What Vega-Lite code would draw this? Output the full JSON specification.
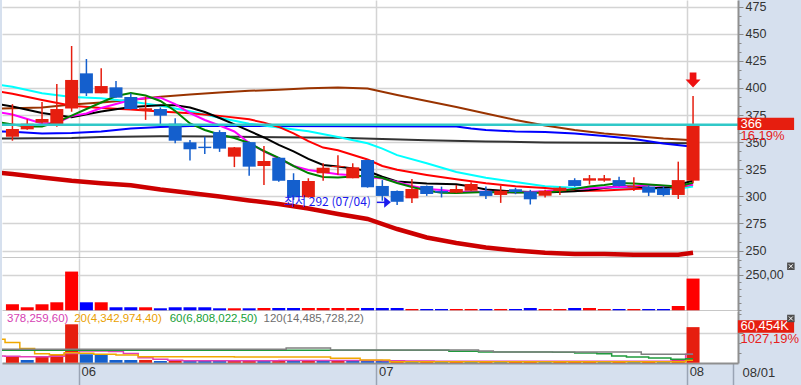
{
  "$schema": "https://vega.github.io/schema/vega-lite/v6.json",
  "background": "#d6e0ee",
  "padding": 0,
  "spacing": 0,
  "bounds": "flush",
  "resolve": {"scale": {"x": "independent", "y": "independent", "color": "independent"}},
  "config": {
    "view": {"fill": "#ffffff", "stroke": null},
    "axis": {"labelFont": "Liberation Sans", "labelColor": "#333333", "labelFontSize": 12, "tickColor": "#8a8a8a", "domainColor": "#8f8f8f", "domainWidth": 2, "gridWidth": 1.5, "labelOverlap": false, "labelBound": false, "labelFlush": false},
    "text": {"font": "Liberation Sans"}
  },
  "datasets": {
    "candles": [
      {"i":0,"o":355,"h":385,"l":351.3,"c":362,"dir":"up","v2":42,"vol":9700,"vdir":"up"},
      {"i":1,"o":361.8,"h":371,"l":361.5,"c":367,"dir":"up","v2":21,"vol":4600,"vdir":"down"},
      {"i":2,"o":368,"h":387,"l":367,"c":371.3,"dir":"up","v2":42,"vol":11400,"vdir":"up"},
      {"i":3,"o":366.7,"h":403.6,"l":364.2,"c":380.5,"dir":"up","v2":56,"vol":14300,"vdir":"up"},
      {"i":4,"o":381,"h":438.6,"l":378,"c":407.3,"dir":"up","v2":271,"vol":65300,"vdir":"up"},
      {"i":5,"o":413.4,"h":426.6,"l":392.5,"c":395,"dir":"down","v2":56,"vol":14300,"vdir":"down"},
      {"i":6,"o":395,"h":418,"l":395,"c":401.7,"dir":"up","v2":56,"vol":13600,"vdir":"down"},
      {"i":7,"o":400.5,"h":406.3,"l":391,"c":391,"dir":"down","v2":21,"vol":4600,"vdir":"down"},
      {"i":8,"o":391.6,"h":395,"l":380,"c":380.5,"dir":"down","v2":21,"vol":4500,"vdir":"down"},
      {"i":9,"o":378.7,"h":392,"l":370.5,"c":381.2,"dir":"up","v2":21,"vol":4700,"vdir":"up"},
      {"i":10,"o":380.5,"h":382,"l":366.7,"c":374.4,"dir":"down","v2":14,"vol":2900,"vdir":"down"},
      {"i":11,"o":367,"h":372,"l":349,"c":351.3,"dir":"down","v2":21,"vol":3900,"vdir":"up"},
      {"i":12,"o":349.8,"h":352,"l":333,"c":343.4,"dir":"down","v2":21,"vol":3600,"vdir":"down"},
      {"i":13,"o":345.8,"h":355,"l":339,"c":344.5,"dir":"down","v2":21,"vol":3500,"vdir":"down"},
      {"i":14,"o":359.3,"h":361,"l":341,"c":344,"dir":"down","v2":14,"vol":3300,"vdir":"down"},
      {"i":15,"o":336.6,"h":345.5,"l":327,"c":345.2,"dir":"up","v2":14,"vol":3500,"vdir":"up"},
      {"i":16,"o":350,"h":350.5,"l":319,"c":327.4,"dir":"down","v2":14,"vol":3700,"vdir":"up"},
      {"i":17,"o":328,"h":346.4,"l":310.5,"c":332.6,"dir":"up","v2":16,"vol":3600,"vdir":"down"},
      {"i":18,"o":335.6,"h":336,"l":313.5,"c":314.4,"dir":"down","v2":16,"vol":3900,"vdir":"up"},
      {"i":19,"o":315.1,"h":321.3,"l":296.7,"c":299.2,"dir":"down","v2":16,"vol":3700,"vdir":"down"},
      {"i":20,"o":299.2,"h":316.7,"l":299,"c":314.2,"dir":"up","v2":16,"vol":4200,"vdir":"up"},
      {"i":21,"o":321.3,"h":330.5,"l":314.5,"c":326.4,"dir":"up","v2":16,"vol":3800,"vdir":"down"},
      {"i":22,"o":327,"h":338,"l":320,"c":328,"dir":"up","v2":16,"vol":3900,"vdir":"up"},
      {"i":23,"o":316.7,"h":330.5,"l":316.7,"c":326.8,"dir":"up","v2":16,"vol":3800,"vdir":"down"},
      {"i":24,"o":333.5,"h":334,"l":308,"c":308.4,"dir":"down","v2":16,"vol":3600,"vdir":"down"},
      {"i":25,"o":309.6,"h":315,"l":296,"c":300.4,"dir":"down","v2":16,"vol":3300,"vdir":"down"},
      {"i":26,"o":305,"h":305.5,"l":292,"c":295,"dir":"down","v2":16,"vol":3500,"vdir":"up"},
      {"i":27,"o":298.2,"h":316,"l":294,"c":306.8,"dir":"up","v2":9,"vol":2200,"vdir":"down"},
      {"i":28,"o":309.6,"h":310,"l":300.5,"c":302.2,"dir":"down","v2":9,"vol":2300,"vdir":"up"},
      {"i":29,"o":305,"h":309,"l":299,"c":303.5,"dir":"down","v2":9,"vol":2200,"vdir":"down"},
      {"i":30,"o":303.4,"h":310.5,"l":303,"c":306.8,"dir":"up","v2":9,"vol":2300,"vdir":"up"},
      {"i":31,"o":305.2,"h":313,"l":305,"c":311.4,"dir":"up","v2":9,"vol":2200,"vdir":"down"},
      {"i":32,"o":305,"h":309,"l":297.6,"c":300.4,"dir":"down","v2":9,"vol":2400,"vdir":"up"},
      {"i":33,"o":301.3,"h":310,"l":294,"c":305.2,"dir":"up","v2":9,"vol":2300,"vdir":"down"},
      {"i":34,"o":306.5,"h":308,"l":302,"c":304,"dir":"down","v2":9,"vol":2400,"vdir":"up"},
      {"i":35,"o":304.3,"h":306,"l":292.5,"c":297.3,"dir":"down","v2":16,"vol":2600,"vdir":"up"},
      {"i":36,"o":300.6,"h":306,"l":299,"c":305.2,"dir":"up","v2":9,"vol":2200,"vdir":"down"},
      {"i":37,"o":305,"h":309,"l":301.3,"c":308,"dir":"up","v2":9,"vol":2300,"vdir":"up"},
      {"i":38,"o":315,"h":316.7,"l":309,"c":309.6,"dir":"down","v2":16,"vol":2500,"vdir":"up"},
      {"i":39,"o":314.5,"h":319.7,"l":311,"c":316.7,"dir":"up","v2":16,"vol":2600,"vdir":"up"},
      {"i":40,"o":314.5,"h":319.7,"l":313.5,"c":316.7,"dir":"up","v2":9,"vol":2200,"vdir":"down"},
      {"i":41,"o":315,"h":318,"l":309,"c":309.6,"dir":"down","v2":9,"vol":2300,"vdir":"up"},
      {"i":42,"o":308.5,"h":317.6,"l":305,"c":309.5,"dir":"up","v2":9,"vol":2200,"vdir":"down"},
      {"i":43,"o":309,"h":310,"l":300.3,"c":303.4,"dir":"down","v2":9,"vol":2300,"vdir":"up"},
      {"i":44,"o":307.5,"h":309,"l":300,"c":301.3,"dir":"down","v2":9,"vol":2200,"vdir":"down"},
      {"i":45,"o":301.3,"h":332,"l":297.6,"c":315,"dir":"up","v2":30,"vol":4600,"vdir":"up"},
      {"i":46,"o":314.5,"h":392.5,"l":312,"c":366,"dir":"up","v2":222,"vol":60454,"vdir":"up"}
    ],
    "ma": [
      {"i":-1,"cyan":403,"red":397,"black":385.2,"green":368.6,"magenta":377.8,"brown":381,"blue":359.8,"gray":353.3,"dred":322},
      {"i":0,"cyan":401,"red":394.5,"black":382.8,"green":366.3,"magenta":375.5,"brown":381.2,"blue":359.5,"dred":320.6},
      {"i":1,"green":364.4,"magenta":371.3},
      {"i":2,"cyan":395,"red":388.8,"black":376.8,"green":364.4,"magenta":367.2,"brown":381.9,"blue":357.9,"dred":317.4},
      {"i":3,"green":368.6,"magenta":367.6},
      {"i":4,"cyan":391.5,"red":383.5,"black":373,"green":374.5,"magenta":374,"brown":384.7,"blue":358.4,"gray":353.8,"dred":314.4},
      {"i":5,"green":380.5,"magenta":376.4},
      {"i":6,"cyan":390.5,"red":381.5,"black":378.2,"green":386.5,"magenta":381.5,"brown":386.5,"blue":359.8,"gray":354.7,"dred":312.1},
      {"i":7,"green":392.5,"magenta":385.1},
      {"i":8,"cyan":387.5,"red":380.1,"black":382.4,"green":395.3,"magenta":388.8,"brown":388.8,"blue":362.6,"dred":310.2},
      {"i":9,"green":393,"magenta":390.7},
      {"i":10,"cyan":383.5,"red":378.3,"black":383.9,"green":387.9,"magenta":391,"brown":391.9,"blue":363.9,"gray":355.4,"dred":306.3},
      {"i":11,"black":383.9,"green":378.7,"magenta":385.1},
      {"i":12,"cyan":378.5,"red":376.6,"black":381.9,"green":367.2,"magenta":376.8,"brown":393.9,"blue":364.9,"dred":303.1},
      {"i":13,"black":377.8,"green":361.2,"magenta":370.4},
      {"i":14,"cyan":372.5,"red":374.2,"black":372.2,"green":357,"magenta":365.3,"brown":395.7,"blue":364.9,"gray":355.2,"dred":299.9},
      {"i":15,"black":366.3,"green":353.8,"magenta":359.8},
      {"i":16,"cyan":367,"red":371,"black":360.3,"green":349.2,"magenta":349.2,"brown":397.3,"dred":296.2},
      {"i":17,"red":368,"black":354.3,"green":341.8,"magenta":341.4},
      {"i":18,"cyan":363.5,"red":364,"black":347.4,"green":335.4,"magenta":334.9,"brown":398.3,"gray":354.5,"dred":293},
      {"i":19,"red":358,"black":341.4,"green":328,"magenta":328},
      {"i":20,"cyan":360,"red":351,"black":334.5,"green":321.5,"magenta":324.3,"brown":399.6,"dred":288.8},
      {"i":21,"red":345,"black":328.9,"green":317.9,"magenta":322.5},
      {"i":22,"cyan":354.8,"red":342.5,"black":327.5,"green":317.4,"magenta":320.3,"brown":400.4,"gray":354,"dred":283.8},
      {"i":23,"black":325.7,"green":318.3,"magenta":319.5},
      {"i":24,"cyan":349,"red":334,"black":323.4,"green":319.2,"magenta":317.9,"brown":399.4,"dred":279.2},
      {"i":25,"cyan":344,"red":328,"black":318.1,"green":316.9,"magenta":316.5,"gray":352.9},
      {"i":26,"cyan":338,"red":324.5,"black":313.7,"green":312.3,"magenta":313.3,"brown":393.4,"dred":269.9},
      {"i":27,"green":308.6,"magenta":309.6},
      {"i":28,"cyan":330.5,"red":319.8,"black":311.9,"green":305.4,"magenta":306.8,"brown":387.9,"gray":351.7,"dred":262.1},
      {"i":29,"green":303.4,"magenta":305.9},
      {"i":30,"cyan":322.5,"red":315.7,"black":311.1,"green":303.1,"magenta":304.5,"brown":382.4,"blue":364.4,"dred":257},
      {"i":31,"black":309.1,"green":303.6,"blue":362.6},
      {"i":32,"cyan":317.2,"red":312,"black":306.3,"green":304,"magenta":304.3,"brown":376.4,"blue":361.2,"gray":350.6,"dred":252.9},
      {"i":34,"cyan":313.2,"red":309.3,"black":304.5,"green":303.6,"magenta":303.6,"brown":370.4,"blue":359.8,"dred":250.1},
      {"i":36,"cyan":309.3,"red":307.8,"black":303.6,"green":303.4,"magenta":304.7,"brown":365.3,"blue":359.3,"gray":349.7,"dred":248.1},
      {"i":37,"green":305},
      {"i":38,"cyan":308,"red":305,"black":304.8,"green":306.8,"magenta":306.8,"brown":361.2,"blue":357.9,"dred":246.9},
      {"i":39,"black":305.9,"green":309.1},
      {"i":40,"cyan":308,"red":305.5,"black":307.7,"green":310.5,"magenta":308.2,"brown":357.9,"blue":355.6,"gray":349.4,"dred":246.9},
      {"i":41,"black":309.3,"green":312.3},
      {"i":42,"cyan":308,"red":306.7,"black":309.1,"green":311.9,"magenta":309.1,"brown":355.6,"blue":352.9,"dred":246.3},
      {"i":43,"black":307.9,"green":310.9,"magenta":310.5},
      {"i":44,"cyan":306.8,"red":307.9,"black":307.7,"green":310,"magenta":309.6,"brown":353.3,"blue":348.7,"dred":246.3},
      {"i":45,"cyan":307,"red":308.5,"black":310.5,"green":309.1,"magenta":309.6,"dred":246.3},
      {"i":46,"cyan":309,"red":311,"black":314.6,"green":312.6,"magenta":311,"brown":351.7,"blue":345.8,"gray":348.9,"dred":248.1}
    ],
    "vma": [
      {"i":-1,"k":"m5","v":11400},{"i":0,"k":"m5","v":11000},{"i":1,"k":"m5","v":10200},{"i":2,"k":"m5","v":10200},{"i":3,"k":"m5","v":11000},{"i":4,"k":"m5","v":15600},{"i":5,"k":"m5","v":19900},{"i":6,"k":"m5","v":19900},{"i":7,"k":"m5","v":19000},{"i":8,"k":"m5","v":15600},{"i":9,"k":"m5","v":8500},{"i":10,"k":"m5","v":5800},{"i":11,"k":"m5","v":4100},{"i":12,"k":"m5","v":3400},{"i":16,"k":"m5","v":3300},{"i":20,"k":"m5","v":3700},{"i":24,"k":"m5","v":3600},{"i":26,"k":"m5","v":3300},{"i":27,"k":"m5","v":3000},{"i":30,"k":"m5","v":2500},{"i":35,"k":"m5","v":2400},{"i":40,"k":"m5","v":2400},{"i":44,"k":"m5","v":2300},{"i":45,"k":"m5","v":2700},{"i":46,"k":"m5","v":14378},
      {"i":-1,"k":"m20","v":40000},{"i":0,"k":"m20","v":34500},{"i":1,"k":"m20","v":24000},{"i":2,"k":"m20","v":15300},{"i":3,"k":"m20","v":13600},{"i":4,"k":"m20","v":17000},{"i":5,"k":"m20","v":16000},{"i":6,"k":"m20","v":14300},{"i":8,"k":"m20","v":13100},{"i":9,"k":"m20","v":10200},{"i":21,"k":"m20","v":9700},{"i":22,"k":"m20","v":7500},{"i":23,"k":"m20","v":7500},{"i":24,"k":"m20","v":4600},{"i":25,"k":"m20","v":4600},{"i":26,"k":"m20","v":1500},{"i":45,"k":"m20","v":1500},{"i":46,"k":"m20","v":4343},
      {"i":-1,"k":"m60","v":21000},{"i":29,"k":"m60","v":21000},{"i":30,"k":"m60","v":19500},{"i":31,"k":"m60","v":19500},{"i":32,"k":"m60","v":18200},{"i":36,"k":"m60","v":18200},{"i":37,"k":"m60","v":17700},{"i":39,"k":"m60","v":16500},{"i":40,"k":"m60","v":15300},{"i":41,"k":"m60","v":11400},{"i":42,"k":"m60","v":9700},{"i":44,"k":"m60","v":8000},{"i":45,"k":"m60","v":5800},{"i":46,"k":"m60","v":6808},
      {"i":-1,"k":"m120","v":22800},{"i":18,"k":"m120","v":22800},{"i":19,"k":"m120","v":25000},{"i":21,"k":"m120","v":25000},{"i":22,"k":"m120","v":21600},{"i":31,"k":"m120","v":21600},{"i":32,"k":"m120","v":19900},{"i":33,"k":"m120","v":18200},{"i":42,"k":"m120","v":18200},{"i":43,"k":"m120","v":14486},{"i":46,"k":"m120","v":14486}
    ]
  },
  "vconcat": [
    {
      "width": 736,
      "height": 258,
      "layer": [
        {
          "data": {"name": "ma"},
          "transform": [{"filter": "isValid(datum.dred)"}],
          "mark": {"type": "line", "color": "#cc0000", "strokeWidth": 4.5, "clip": true},
          "encoding": {
            "x": {"field": "i", "type": "quantitative", "title": null, "scale": {"type": "linear", "domain": [-0.367, 48.7], "nice": false, "zero": false},
                  "axis": {"values": [4.5, 24.6, 45.6], "tickCount": 100, "labels": false, "ticks": false, "domain": true, "grid": true, "gridColor": "#d4d4d4", "title": null, "minExtent": 0, "maxExtent": 0}},
            "y": {"field": "dred", "type": "quantitative", "title": null, "scale": {"domain": [243.2, 481], "nice": false, "zero": false},
                  "axis": {"orient": "right", "title": null, "labelOverlap": false, "tickCount": 100,
                           "values": [250,258.333,266.667,275,283.333,291.667,300,308.333,316.667,325,333.333,341.667,350,358.333,366.667,375,383.333,391.667,400,408.333,416.667,425,433.333,441.667,450,458.333,466.667,475],
                           "labelExpr": "datum.value % 25 == 0 ? datum.label : ''",
                           "tickSize": {"condition": {"test": "datum.value % 25 == 0", "value": 5}, "value": 3},
                           "grid": true,
                           "gridColor": {"condition": {"test": "datum.value % 25 == 0", "value": "#d4d4d4"}, "value": "transparent"},
                           "labelPadding": 2, "labelFontSize": 12.5, "minExtent": 65, "maxExtent": 65}}
          }
        },
        {
          "data": {"name": "ma"},
          "transform": [
            {"fold": ["gray", "blue", "brown", "cyan", "red", "black", "magenta", "green"], "as": ["k", "v"]},
            {"filter": "isValid(datum.v)"}
          ],
          "mark": {"type": "line", "strokeWidth": 2, "clip": true},
          "encoding": {
            "x": {"field": "i", "type": "quantitative", "title": null, "scale": {"type": "linear", "domain": [-0.367, 48.7], "nice": false, "zero": false}},
            "y": {"field": "v", "type": "quantitative", "title": null, "scale": {"domain": [243.2, 481], "nice": false, "zero": false}},
            "color": {"field": "k", "type": "nominal", "legend": null,
                      "scale": {"domain": ["gray", "blue", "brown", "cyan", "red", "black", "magenta", "green"],
                                "range": ["#333333", "#0000ff", "#993300", "#00ffff", "#ff0000", "#000000", "#ff00ff", "#008000"]}}
          }
        },
        {
          "data": {"name": "candles"},
          "mark": {"type": "rule", "strokeWidth": 1.5},
          "encoding": {
            "x": {"field": "i", "type": "quantitative", "title": null, "scale": {"type": "linear", "domain": [-0.367, 48.7], "nice": false, "zero": false}},
            "y": {"field": "l", "type": "quantitative", "title": null, "scale": {"domain": [243.2, 481], "nice": false, "zero": false}},
            "y2": {"field": "h"},
            "color": {"condition": {"test": "datum.dir === 'up'", "value": "#e61e0f"}, "value": "#145fcd"}
          }
        },
        {
          "data": {"name": "candles"},
          "mark": {"type": "bar", "width": 13, "minBandSize": 1.5},
          "encoding": {
            "x": {"field": "i", "type": "quantitative", "title": null, "scale": {"type": "linear", "domain": [-0.367, 48.7], "nice": false, "zero": false}},
            "y": {"field": "o", "type": "quantitative", "title": null, "scale": {"domain": [243.2, 481], "nice": false, "zero": false}},
            "y2": {"field": "c"},
            "color": {"condition": {"test": "datum.dir === 'up'", "value": "#e61e0f"}, "value": "#145fcd"}
          }
        },
        {
          "data": {"values": [{}]},
          "mark": {"type": "rule", "color": "#30c8c8", "strokeWidth": 2.5},
          "encoding": {
            "y": {"datum": 366, "type": "quantitative", "title": null, "scale": {"domain": [243.2, 481], "nice": false, "zero": false}}
          }
        },
        {
          "data": {"values": [{}]},
          "mark": {"type": "point", "shape": "M-0.45,-1L0.45,-1L0.45,-0.05L1,-0.05L0,1L-1,-0.05L-0.45,-0.05Z", "size": 225, "filled": true, "color": "#ee1111", "opacity": 1},
          "encoding": {
            "x": {"datum": 46, "type": "quantitative", "title": null, "scale": {"type": "linear", "domain": [-0.367, 48.7], "nice": false, "zero": false}},
            "y": {"datum": 407.3, "type": "quantitative", "title": null, "scale": {"domain": [243.2, 481], "nice": false, "zero": false}}
          }
        },
        {
          "data": {"values": [{}]},
          "mark": {"type": "text", "text": "최저 292 (07/04)", "align": "right", "baseline": "middle", "font": "Noto Sans CJK KR", "fontSize": 12, "color": "#1a1aee"},
          "encoding": {
            "x": {"datum": 24.23, "type": "quantitative", "title": null, "scale": {"type": "linear", "domain": [-0.367, 48.7], "nice": false, "zero": false}},
            "y": {"datum": 294.8, "type": "quantitative", "title": null, "scale": {"domain": [243.2, 481], "nice": false, "zero": false}}
          }
        },
        {
          "data": {"values": [{}]},
          "mark": {"type": "rule", "color": "#1a1aee", "strokeWidth": 1.5},
          "encoding": {
            "x": {"datum": 24.63, "type": "quantitative", "title": null, "scale": {"type": "linear", "domain": [-0.367, 48.7], "nice": false, "zero": false}},
            "x2": {"datum": 25.2},
            "y": {"datum": 294.5, "type": "quantitative", "title": null, "scale": {"domain": [243.2, 481], "nice": false, "zero": false}}
          }
        },
        {
          "data": {"values": [{}]},
          "mark": {"type": "point", "shape": "M-0.6,-1L0.6,0L-0.6,1Z", "size": 121, "filled": true, "color": "#1a1aee", "opacity": 1},
          "encoding": {
            "x": {"datum": 25.35, "type": "quantitative", "title": null, "scale": {"type": "linear", "domain": [-0.367, 48.7], "nice": false, "zero": false}},
            "y": {"datum": 294.5, "type": "quantitative", "title": null, "scale": {"domain": [243.2, 481], "nice": false, "zero": false}}
          }
        },
        {
          "data": {"values": [{}]},
          "mark": {"type": "rect", "color": "#e61e0f"},
          "encoding": {
            "x": {"datum": 49.01, "type": "quantitative", "title": null, "scale": {"type": "linear", "domain": [-0.367, 48.7], "nice": false, "zero": false}},
            "x2": {"datum": 52.83},
            "y": {"datum": 361.2, "type": "quantitative", "title": null, "scale": {"domain": [243.2, 481], "nice": false, "zero": false}},
            "y2": {"datum": 372.5}
          }
        },
        {
          "data": {"values": [{}]},
          "mark": {"type": "text", "text": "366", "align": "left", "baseline": "middle", "fontSize": 13, "color": "#ffffff"},
          "encoding": {
            "x": {"datum": 49.2, "type": "quantitative", "title": null, "scale": {"type": "linear", "domain": [-0.367, 48.7], "nice": false, "zero": false}},
            "y": {"datum": 366.4, "type": "quantitative", "title": null, "scale": {"domain": [243.2, 481], "nice": false, "zero": false}}
          }
        },
        {
          "data": {"values": [{}]},
          "mark": {"type": "text", "text": "16,19%", "align": "left", "baseline": "middle", "fontSize": 13, "color": "#e62020"},
          "encoding": {
            "x": {"datum": 49.2, "type": "quantitative", "title": null, "scale": {"type": "linear", "domain": [-0.367, 48.7], "nice": false, "zero": false}},
            "y": {"datum": 355.7, "type": "quantitative", "title": null, "scale": {"domain": [243.2, 481], "nice": false, "zero": false}}
          }
        }
      ]
    },
    {
      "width": 736,
      "height": 53,
      "layer": [
        {
          "data": {"name": "candles"},
          "mark": {"type": "bar", "width": 13},
          "encoding": {
            "x": {"field": "i", "type": "quantitative", "title": null, "scale": {"type": "linear", "domain": [-0.367, 48.7], "nice": false, "zero": false},
                  "axis": {"values": [4.5, 24.6, 45.6], "tickCount": 100, "labels": false, "ticks": false, "domain": true, "grid": true, "gridColor": "#d4d4d4", "title": null, "minExtent": 0, "maxExtent": 0}},
            "y": {"field": "v2", "type": "quantitative", "title": null, "scale": {"domain": [-5, 366], "nice": false, "zero": false},
                  "axis": {"orient": "right", "title": null, "labelOverlap": false, "tickCount": 100, "values": [0, 50, 100, 150, 200, 250, 300, 350],
                           "labelExpr": "datum.value == 250 ? '250,00' : ''",
                           "tickSize": {"condition": {"test": "datum.value == 250", "value": 5}, "value": 3},
                           "grid": true,
                           "gridColor": {"condition": {"test": "datum.value == 250", "value": "#d4d4d4"}, "value": "transparent"},
                           "labelPadding": 2, "labelFontSize": 12.5, "minExtent": 65, "maxExtent": 65}},
            "y2": {"datum": 0},
            "color": {"condition": {"test": "datum.dir === 'up'", "value": "#ff0000"}, "value": "#0000ff"}
          }
        },
        {
          "data": {"values": [{}]},
          "mark": {"type": "point", "shape": "square", "size": 56, "filled": true, "color": "#4d4d4d", "opacity": 1},
          "encoding": {
            "x": {"datum": 52.61, "type": "quantitative", "title": null, "scale": {"type": "linear", "domain": [-0.367, 48.7], "nice": false, "zero": false}},
            "y": {"datum": 308, "type": "quantitative", "title": null, "scale": {"domain": [-5, 366], "nice": false, "zero": false}}
          }
        },
        {
          "data": {"values": [{}]},
          "mark": {"type": "point", "shape": "M-1,-1L1,1M1,-1L-1,1", "size": 16, "filled": false, "color": "#ffffff", "strokeWidth": 1, "opacity": 1},
          "encoding": {
            "x": {"datum": 52.61, "type": "quantitative", "title": null, "scale": {"type": "linear", "domain": [-0.367, 48.7], "nice": false, "zero": false}},
            "y": {"datum": 308, "type": "quantitative", "title": null, "scale": {"domain": [-5, 366], "nice": false, "zero": false}}
          }
        }
      ]
    },
    {
      "width": 736,
      "height": 52,
      "layer": [
        {
          "data": {"name": "candles"},
          "mark": {"type": "bar", "width": 13},
          "encoding": {
            "x": {"field": "i", "type": "quantitative", "title": null, "scale": {"type": "linear", "domain": [-0.367, 48.7], "nice": false, "zero": false},
                  "axis": {"values": [4.5, 24.6, 45.6, 48.7], "tickCount": 100, "title": null, "domain": true, "grid": true, "labelOverlap": false,
                           "gridColor": {"condition": {"test": "datum.value > 48", "value": "transparent"}, "value": "#d4d4d4"},
                           "ticks": true, "tickSize": 22, "tickColor": "#9aa4b4", "tickWidth": 1.5,
                           "labelExpr": "datum.value < 10 ? '06' : datum.value < 30 ? '07' : datum.value < 47 ? '08' : ''",
                           "labelAlign": "left", "labelBaseline": "top", "labelPadding": -20, "labelOffset": 2, "labelFontSize": 13,
                           "minExtent": 22, "maxExtent": 22}},
            "y": {"field": "vol", "type": "quantitative", "title": null, "scale": {"domain": [-500, 87900], "nice": false, "zero": false},
                  "axis": {"orient": "right", "title": null, "tickCount": 100, "values": [16667, 33333, 50000, 66667, 83333], "labels": false,
                           "tickSize": {"condition": {"test": "datum.value == 50000", "value": 5}, "value": 3},
                           "grid": true,
                           "gridColor": {"condition": {"test": "datum.value == 50000", "value": "#d4d4d4"}, "value": "transparent"},
                           "minExtent": 65, "maxExtent": 65}},
            "y2": {"datum": 0},
            "color": {"condition": {"test": "datum.vdir === 'up'", "value": "#e61e0f"}, "value": "#145fcd"}
          }
        },
        {
          "data": {"name": "vma"},
          "mark": {"type": "line", "strokeWidth": 1.5, "interpolate": "step", "clip": true},
          "encoding": {
            "x": {"field": "i", "type": "quantitative", "title": null, "scale": {"type": "linear", "domain": [-0.367, 48.7], "nice": false, "zero": false}},
            "y": {"field": "v", "type": "quantitative", "title": null, "scale": {"domain": [-500, 87900], "nice": false, "zero": false}},
            "color": {"field": "k", "type": "nominal", "legend": null,
                      "scale": {"domain": ["m120", "m60", "m20", "m5"], "range": ["#808080", "#1f9a3c", "#f0a800", "#e040b8"]}}
          }
        },
        {
          "data": {"values": [{}]},
          "mark": {"type": "text", "text": "378,259,60)", "align": "left", "baseline": "middle", "fontSize": 11.5, "color": "#d63fb3"},
          "encoding": {
            "x": {"datum": -0.367, "type": "quantitative", "title": null, "scale": {"type": "linear", "domain": [-0.367, 48.7], "nice": false, "zero": false}},
            "y": {"datum": 73800, "type": "quantitative", "title": null, "scale": {"domain": [-500, 87900], "nice": false, "zero": false}}
          }
        },
        {
          "data": {"values": [{}]},
          "mark": {"type": "text", "text": "20(4,342,974,40)", "align": "left", "baseline": "middle", "fontSize": 11.5, "color": "#eaa000"},
          "encoding": {
            "x": {"datum": 4.17, "type": "quantitative", "title": null, "scale": {"type": "linear", "domain": [-0.367, 48.7], "nice": false, "zero": false}},
            "y": {"datum": 73800, "type": "quantitative", "title": null, "scale": {"domain": [-500, 87900], "nice": false, "zero": false}}
          }
        },
        {
          "data": {"values": [{}]},
          "mark": {"type": "text", "text": "60(6,808,022,50)", "align": "left", "baseline": "middle", "fontSize": 11.5, "color": "#18a038"},
          "encoding": {
            "x": {"datum": 10.63, "type": "quantitative", "title": null, "scale": {"type": "linear", "domain": [-0.367, 48.7], "nice": false, "zero": false}},
            "y": {"datum": 73800, "type": "quantitative", "title": null, "scale": {"domain": [-500, 87900], "nice": false, "zero": false}}
          }
        },
        {
          "data": {"values": [{}]},
          "mark": {"type": "text", "text": "120(14,485,728,22)", "align": "left", "baseline": "middle", "fontSize": 11.5, "color": "#6e6e6e"},
          "encoding": {
            "x": {"datum": 16.97, "type": "quantitative", "title": null, "scale": {"type": "linear", "domain": [-0.367, 48.7], "nice": false, "zero": false}},
            "y": {"datum": 73800, "type": "quantitative", "title": null, "scale": {"domain": [-500, 87900], "nice": false, "zero": false}}
          }
        },
        {
          "data": {"values": [{}]},
          "mark": {"type": "rect", "color": "#e61e0f"},
          "encoding": {
            "x": {"datum": 49.03, "type": "quantitative", "title": null, "scale": {"type": "linear", "domain": [-0.367, 48.7], "nice": false, "zero": false}},
            "x2": {"datum": 52.83},
            "y": {"datum": 51000, "type": "quantitative", "title": null, "scale": {"domain": [-500, 87900], "nice": false, "zero": false}},
            "y2": {"datum": 72100}
          }
        },
        {
          "data": {"values": [{}]},
          "mark": {"type": "text", "text": "60,454K", "align": "left", "baseline": "middle", "fontSize": 13, "color": "#ffffff"},
          "encoding": {
            "x": {"datum": 49.2, "type": "quantitative", "title": null, "scale": {"type": "linear", "domain": [-0.367, 48.7], "nice": false, "zero": false}},
            "y": {"datum": 61600, "type": "quantitative", "title": null, "scale": {"domain": [-500, 87900], "nice": false, "zero": false}}
          }
        },
        {
          "data": {"values": [{}]},
          "mark": {"type": "text", "text": "1027,19%", "align": "left", "baseline": "middle", "fontSize": 13, "color": "#e62020"},
          "encoding": {
            "x": {"datum": 49.2, "type": "quantitative", "title": null, "scale": {"type": "linear", "domain": [-0.367, 48.7], "nice": false, "zero": false}},
            "y": {"datum": 40700, "type": "quantitative", "title": null, "scale": {"domain": [-500, 87900], "nice": false, "zero": false}}
          }
        },
        {
          "data": {"values": [{}]},
          "mark": {"type": "point", "shape": "square", "size": 56, "filled": true, "color": "#4d4d4d", "opacity": 1},
          "encoding": {
            "x": {"datum": 52.61, "type": "quantitative", "title": null, "scale": {"type": "linear", "domain": [-0.367, 48.7], "nice": false, "zero": false}},
            "y": {"datum": 75200, "type": "quantitative", "title": null, "scale": {"domain": [-500, 87900], "nice": false, "zero": false}}
          }
        },
        {
          "data": {"values": [{}]},
          "mark": {"type": "point", "shape": "M-1,-1L1,1M1,-1L-1,1", "size": 16, "filled": false, "color": "#ffffff", "strokeWidth": 1, "opacity": 1},
          "encoding": {
            "x": {"datum": 52.61, "type": "quantitative", "title": null, "scale": {"type": "linear", "domain": [-0.367, 48.7], "nice": false, "zero": false}},
            "y": {"datum": 75200, "type": "quantitative", "title": null, "scale": {"domain": [-500, 87900], "nice": false, "zero": false}}
          }
        },
        {
          "data": {"values": [{}]},
          "mark": {"type": "text", "text": "08/01", "align": "left", "baseline": "middle", "fontSize": 13, "color": "#333333"},
          "encoding": {
            "x": {"datum": 49.35, "type": "quantitative", "title": null, "scale": {"type": "linear", "domain": [-0.367, 48.7], "nice": false, "zero": false}},
            "y": {"datum": -17500, "type": "quantitative", "title": null, "scale": {"domain": [-500, 87900], "nice": false, "zero": false}}
          }
        }
      ]
    }
  ]
}
